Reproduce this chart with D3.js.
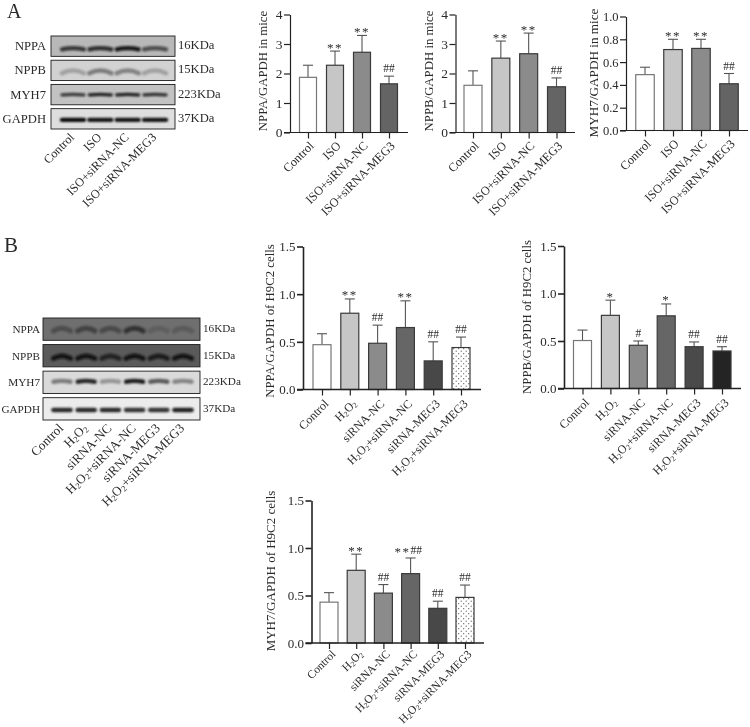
<!DOCTYPE html>
<html>
<head>
<meta charset="utf-8">
<script src="https://cdn.jsdelivr.net/npm/d3@7"></script>
<style>
  body { margin: 0; background: #fff; }
  svg { display: block; }
  text { font-family: "Liberation Serif", serif; fill: #2a2a2a; }
</style>
</head>
<body>
<div id="chart"></div>
<script>
// categories
var groupsMice = ["Control", "ISO", "ISO+siRNA-NC", "ISO+siRNA-MEG3"];
var groupsCells = ["Control", "H₂O₂", "siRNA-NC", "H₂O₂+siRNA-NC", "siRNA-MEG3", "H₂O₂+siRNA-MEG3"];

// bar values and the top of each error bar
var nppaMice = [1.87, 2.28, 2.72, 1.65];
var nppaMiceTop = [2.28, 2.76, 3.29, 1.91];
var nppbMice = [1.6, 2.52, 2.67, 1.55];
var nppbMiceTop = [2.09, 3.1, 3.37, 1.85];
var myh7Mice = [0.49, 0.71, 0.72, 0.41];
var myh7MiceTop = [0.555, 0.8, 0.8, 0.5];
var nppaCells = [0.47, 0.8, 0.485, 0.65, 0.3, 0.44];
var nppaCellsTop = [0.585, 0.95, 0.675, 0.93, 0.5, 0.55];
var nppbCells = [0.505, 0.77, 0.455, 0.765, 0.44, 0.395];
var nppbCellsTop = [0.615, 0.93, 0.5, 0.89, 0.49, 0.44];
var myh7Cells = [0.43, 0.765, 0.525, 0.73, 0.365, 0.48];
var myh7CellsTop = [0.53, 0.935, 0.615, 0.895, 0.44, 0.61];

// significance marks
var sigNppaMice = ["", "**", "**", "##"];
var sigNppbMice = ["", "**", "**", "##"];
var sigMyh7Mice = ["", "**", "**", "##"];
var sigNppaCells = ["", "**", "##", "**", "##", "##"];
var sigNppbCells = ["", "*", "#", "*", "##", "##"];
var sigMyh7Cells = ["", "**", "##", "**##", "##", "##"];

// tick labels
var ticks04 = [0, 1, 2, 3, 4];
var ticks01 = [0, 0.2, 0.4, 0.6, 0.8, 1];
var ticks15 = [0, 0.5, 1, 1.5];

// blots: protein names, sizes, band strength by lane (0-1)
var proteins = ["NPPA", "NPPB", "MYH7", "GAPDH"];
var sizes = ["16KDa", "15KDa", "223KDa", "37KDa"];
var bandsMice = [
  [0.75, 0.8, 0.95, 0.6],
  [0.3, 0.6, 0.55, 0.3],
  [0.75, 0.9, 0.9, 0.8],
  [0.95, 0.9, 0.9, 0.9]
];
var bandsCells = [
  [0.35, 0.5, 0.4, 0.7, 0.12, 0.18],
  [0.9, 0.9, 0.7, 0.9, 0.8, 0.9],
  [0.45, 0.95, 0.3, 1, 0.65, 0.4],
  [0.9, 0.9, 0.9, 0.85, 0.85, 0.95]
];

var fillsMice = ["#ffffff", "#c6c6c6", "#8b8b8b", "#646464"];
var fillsCellsA = ["#ffffff", "#c6c6c6", "#8b8b8b", "#666666", "#484848", "url(#dots)"];
var fillsCellsB = ["#ffffff", "#c6c6c6", "#8b8b8b", "#666666", "#4a4a4a", "#242424"];

var svg = d3.select("#chart").append("svg")
  .attr("width", 750)
  .attr("height", 727)
  .style("opacity", 0.999);

var defs = svg.append("defs");
var dots = defs.append("pattern")
  .attr("id", "dots")
  .attr("patternUnits", "userSpaceOnUse")
  .attr("width", 5)
  .attr("height", 5);
dots.append("rect").attr("width", 5).attr("height", 5).attr("fill", "#fff");
dots.append("circle").attr("cx", 1.2).attr("cy", 1.2).attr("r", 0.6).attr("fill", "#555");
dots.append("circle").attr("cx", 3.7).attr("cy", 3.7).attr("r", 0.6).attr("fill", "#555");
defs.append("filter").attr("id", "soft")
  .attr("filterUnits", "userSpaceOnUse")
  .attr("x", 0).attr("y", 0).attr("width", 750).attr("height", 727)
  .append("feGaussianBlur").attr("stdDeviation", 1.1);

svg.append("text").attr("x", 7).attr("y", 18).attr("font-size", 20).text("A");
svg.append("text").attr("x", 4).attr("y", 252).attr("font-size", 21).text("B");

// the subscript 2 is missing from the serif font, so write it as a small lowered 2
function writeLabel(sel, label) {
  sel.text(null);
  label.split("₂").forEach(function(part, i) {
    if (i > 0) {
      sel.append("tspan").attr("font-size", "65%").attr("dy", "0.2em").text("2");
      sel.append("tspan").attr("dy", "-0.13em").text(part);
    } else {
      sel.append("tspan").text(part);
    }
  });
}

function barChart(o) {
  var y = d3.scaleLinear().domain([0, o.max]).range([o.y0, o.y1]);
  var x = d3.scalePoint().domain(o.groups).range([o.c0, o.c1]);
  var g = svg.append("g");

  // error bars first, bars sit on top of the lower half
  o.groups.forEach(function(d, i) {
    g.append("line")
      .attr("x1", x(d)).attr("x2", x(d))
      .attr("y1", y(o.values[i])).attr("y2", y(o.tops[i]))
      .attr("stroke", "#555").attr("stroke-width", 1.1);
    g.append("line")
      .attr("x1", x(d) - 5).attr("x2", x(d) + 5)
      .attr("y1", y(o.tops[i])).attr("y2", y(o.tops[i]))
      .attr("stroke", "#555").attr("stroke-width", 1.1);
  });

  g.selectAll("rect.bar").data(o.values).enter().append("rect")
    .attr("class", "bar")
    .attr("x", function(d, i) { return x(o.groups[i]) - o.barW / 2; })
    .attr("width", o.barW)
    .attr("y", function(d) { return y(d); })
    .attr("height", function(d) { return o.y0 - y(d); })
    .attr("fill", function(d, i) { return o.fills[i]; })
    .attr("stroke", function(d, i) { return i == 0 ? "#777" : "#3a3a3a"; })
    .attr("stroke-width", 1.2);

  // significance marks
  o.sig.forEach(function(s, i) {
    if (!s) return;
    var stars = s.replace(/#/g, "");
    var hashes = s.replace(/\*/g, "");
    var cx = x(o.groups[i]);
    var top = y(o.tops[i]);
    if (stars && hashes) {
      g.append("text").attr("x", cx).attr("y", top - 2).attr("font-size", 13)
        .attr("text-anchor", "end").attr("letter-spacing", 1.5).text(stars);
      g.append("text").attr("x", cx).attr("y", top - 4).attr("font-size", 11.5)
        .attr("text-anchor", "start").text(hashes);
    } else if (stars) {
      g.append("text").attr("x", cx).attr("y", top + 0.5).attr("font-size", 13)
        .attr("text-anchor", "middle").attr("letter-spacing", 1.5).text(stars);
    } else {
      g.append("text").attr("x", cx).attr("y", top - 4).attr("font-size", 11.5)
        .attr("text-anchor", "middle").text(hashes);
    }
  });

  var yAxis = g.append("g")
    .attr("transform", "translate(" + o.axisX + ",0)")
    .call(d3.axisLeft(y).tickValues(o.ticks).tickSize(6).tickSizeOuter(0).tickPadding(1.5)
      .tickFormat(o.format));
  yAxis.selectAll("text").attr("font-size", o.tickSize).style("font-family", "Liberation Serif");
  yAxis.selectAll("line,path").attr("stroke", "#222").attr("stroke-width", o.axisW);

  g.append("line")
    .attr("x1", o.axisX - 6).attr("x2", o.xEnd)
    .attr("y1", o.y0).attr("y2", o.y0)
    .attr("stroke", "#222").attr("stroke-width", o.axisW);

  var xAxis = g.append("g")
    .attr("transform", "translate(0," + o.y0 + ")")
    .call(d3.axisBottom(x).tickSize(6).tickSizeOuter(0));
  xAxis.select(".domain").remove();
  xAxis.selectAll("line").attr("stroke", "#222").attr("stroke-width", 1.2);
  xAxis.selectAll("text")
    .attr("font-size", o.labelSize)
    .attr("y", 0)
    .attr("dy", "0.35em")
    .style("font-family", "Liberation Serif")
    .style("text-anchor", "end")
    .attr("transform", "translate(" + o.labelDx + "," + o.labelDy + ")rotate(-45)")
    .each(function(d) { writeLabel(d3.select(this), d); });

  g.append("text")
    .attr("transform", "translate(" + o.titleX + "," + o.titleY + ")rotate(-90)")
    .attr("text-anchor", "middle")
    .attr("font-size", o.titleSize)
    .text(o.title);
}

barChart({ title: "NPPA/GAPDH in mice", titleX: 267, titleY: 71, titleSize: 12.8, groups: groupsMice, values: nppaMice, tops: nppaMiceTop, sig: sigNppaMice,
  fills: fillsMice, max: 4, ticks: ticks04, format: d3.format("d"), tickSize: 13.5, axisX: 290, y0: 132.5, y1: 14.5, c0: 308, c1: 389, xEnd: 408, barW: 17, axisW: 1.2, labelSize: 12.3, labelDx: 3, labelDy: 11 });
barChart({ title: "NPPB/GAPDH in mice", titleX: 433, titleY: 71, titleSize: 12.8, groups: groupsMice, values: nppbMice, tops: nppbMiceTop, sig: sigNppbMice,
  fills: fillsMice, max: 4, ticks: ticks04, format: d3.format("d"), tickSize: 13.5, axisX: 455.5, y0: 132.5, y1: 14.5, c0: 473, c1: 556.5, xEnd: 575, barW: 18, axisW: 1.2, labelSize: 12.3, labelDx: 3, labelDy: 11 });
barChart({ title: "MYH7/GAPDH in mice", titleX: 598, titleY: 73, titleSize: 13.2, groups: groupsMice, values: myh7Mice, tops: myh7MiceTop, sig: sigMyh7Mice,
  fills: fillsMice, max: 1, ticks: ticks01, format: d3.format(".1f"), tickSize: 12.5, axisX: 626, y0: 130.5, y1: 16.5, c0: 645, c1: 729, xEnd: 748, barW: 18.5, axisW: 1.2, labelSize: 12.3, labelDx: 3, labelDy: 11 });

barChart({ title: "NPPA/GAPDH of H9C2 cells", titleX: 274, titleY: 321, titleSize: 12.8, groups: groupsCells, values: nppaCells, tops: nppaCellsTop, sig: sigNppaCells,
  fills: fillsCellsA, max: 1.5, ticks: ticks15, format: d3.format(".1f"), tickSize: 13, axisX: 303, y0: 389.5, y1: 246.5, c0: 322, c1: 461, xEnd: 481, barW: 18, axisW: 1.6, labelSize: 12, labelDx: 4, labelDy: 12 });
barChart({ title: "NPPB/GAPDH of H9C2 cells", titleX: 531, titleY: 317, titleSize: 12.8, groups: groupsCells, values: nppbCells, tops: nppbCellsTop, sig: sigNppbCells,
  fills: fillsCellsB, max: 1.5, ticks: ticks15, format: d3.format(".1f"), tickSize: 13, axisX: 564, y0: 388.5, y1: 246, c0: 582.5, c1: 722, xEnd: 741, barW: 18, axisW: 1.6, labelSize: 12, labelDx: 4, labelDy: 12 });
barChart({ title: "MYH7/GAPDH of H9C2 cells", titleX: 275, titleY: 571, titleSize: 13, groups: groupsCells, values: myh7Cells, tops: myh7CellsTop, sig: sigMyh7Cells,
  fills: fillsCellsA, max: 1.5, ticks: ticks15, format: d3.format(".1f"), tickSize: 13, axisX: 311.5, y0: 643, y1: 500.5, c0: 329, c1: 465, xEnd: 484, barW: 18, axisW: 1.6, labelSize: 11.5, labelDx: 4, labelDy: 9 });

function blot(o) {
  var row = d3.scaleBand().domain(proteins).range([o.top, o.bottom]).paddingInner(0.16);
  var lane = d3.scalePoint().domain(o.groups).range([o.c0, o.c1]);
  var ink = d3.scaleLinear().domain([0, 1]).range([0.08, 1]);
  var g = svg.append("g");

  proteins.forEach(function(p, r) {
    var yTop = row(p), h = row.bandwidth();
    var st = o.rows[r];
    var clipId = o.id + r;
    defs.append("clipPath").attr("id", clipId).append("rect")
      .attr("x", o.left).attr("y", yTop).attr("width", o.right - o.left).attr("height", h);
    g.append("rect")
      .attr("x", o.left).attr("y", yTop).attr("width", o.right - o.left).attr("height", h)
      .attr("fill", st.bg);
    var clip = g.append("g").attr("clip-path", "url(#" + clipId + ")");
    o.bands[r].forEach(function(v, i) {
      var cx = lane(o.groups[i]);
      var cy = yTop + h * st.at;
      clip.append("path")
        .attr("d", "M" + (cx - o.bandW / 2) + "," + (cy + st.arch) +
          "Q" + cx + "," + (cy - st.arch * 2) + " " + (cx + o.bandW / 2) + "," + (cy + st.arch))
        .attr("fill", "none")
        .attr("stroke", st.ink)
        .attr("stroke-width", st.thick)
        .attr("stroke-linecap", "round")
        .attr("opacity", ink(v))
        .attr("filter", "url(#soft)");
    });
    g.append("rect")
      .attr("x", o.left).attr("y", yTop).attr("width", o.right - o.left).attr("height", h)
      .attr("fill", "none").attr("stroke", "#1c1c1c").attr("stroke-width", 0.9);
    g.append("text").attr("x", o.left - o.nameGap).attr("y", yTop + h / 2 + 4)
      .attr("text-anchor", "end").attr("font-size", o.font).text(p);
    g.append("text").attr("x", o.right + 3).attr("y", yTop + h / 2 + 3)
      .attr("font-size", o.font).text(sizes[r]);
  });

  o.groups.forEach(function(d) {
    var t = g.append("text")
      .attr("transform", "translate(" + (lane(d) + o.labelDx) + "," + o.labelY + ")rotate(-45)")
      .attr("text-anchor", "end").attr("font-size", o.labelSize);
    writeLabel(t, d);
  });
}

blot({ id: "ma", groups: groupsMice, bands: bandsMice, left: 51, right: 175, top: 36, bottom: 129, c0: 73, c1: 155, bandW: 22, font: 12.6, nameGap: 5, labelSize: 12.3, labelY: 138, labelDx: 2,
  rows: [
    { bg: "#b8b8b8", ink: "#0c0c0c", at: 0.62, arch: 0.8, thick: 4.2 },
    { bg: "#d2d2d2", ink: "#4a4a4a", at: 0.55, arch: 1.8, thick: 4.6 },
    { bg: "#c2c2c2", ink: "#0c0c0c", at: 0.5, arch: 0.3, thick: 3.2 },
    { bg: "#dedede", ink: "#060606", at: 0.55, arch: 0, thick: 4.4 }
  ] });

blot({ id: "ce", groups: groupsCells, bands: bandsCells, left: 43, right: 200, top: 318, bottom: 420, c0: 62, c1: 183, bandW: 17, font: 11.2, nameGap: 3, labelSize: 13, labelY: 429, labelDx: 2,
  rows: [
    { bg: "#6f6f6f", ink: "#1c1c1c", at: 0.5, arch: 1.8, thick: 5 },
    { bg: "#5a5a5a", ink: "#101010", at: 0.55, arch: 1.6, thick: 5 },
    { bg: "#dadada", ink: "#1c1c1c", at: 0.45, arch: 0.6, thick: 4.4 },
    { bg: "#ececec", ink: "#141414", at: 0.55, arch: 0, thick: 4.6 }
  ] });
</script>
</body>
</html>
